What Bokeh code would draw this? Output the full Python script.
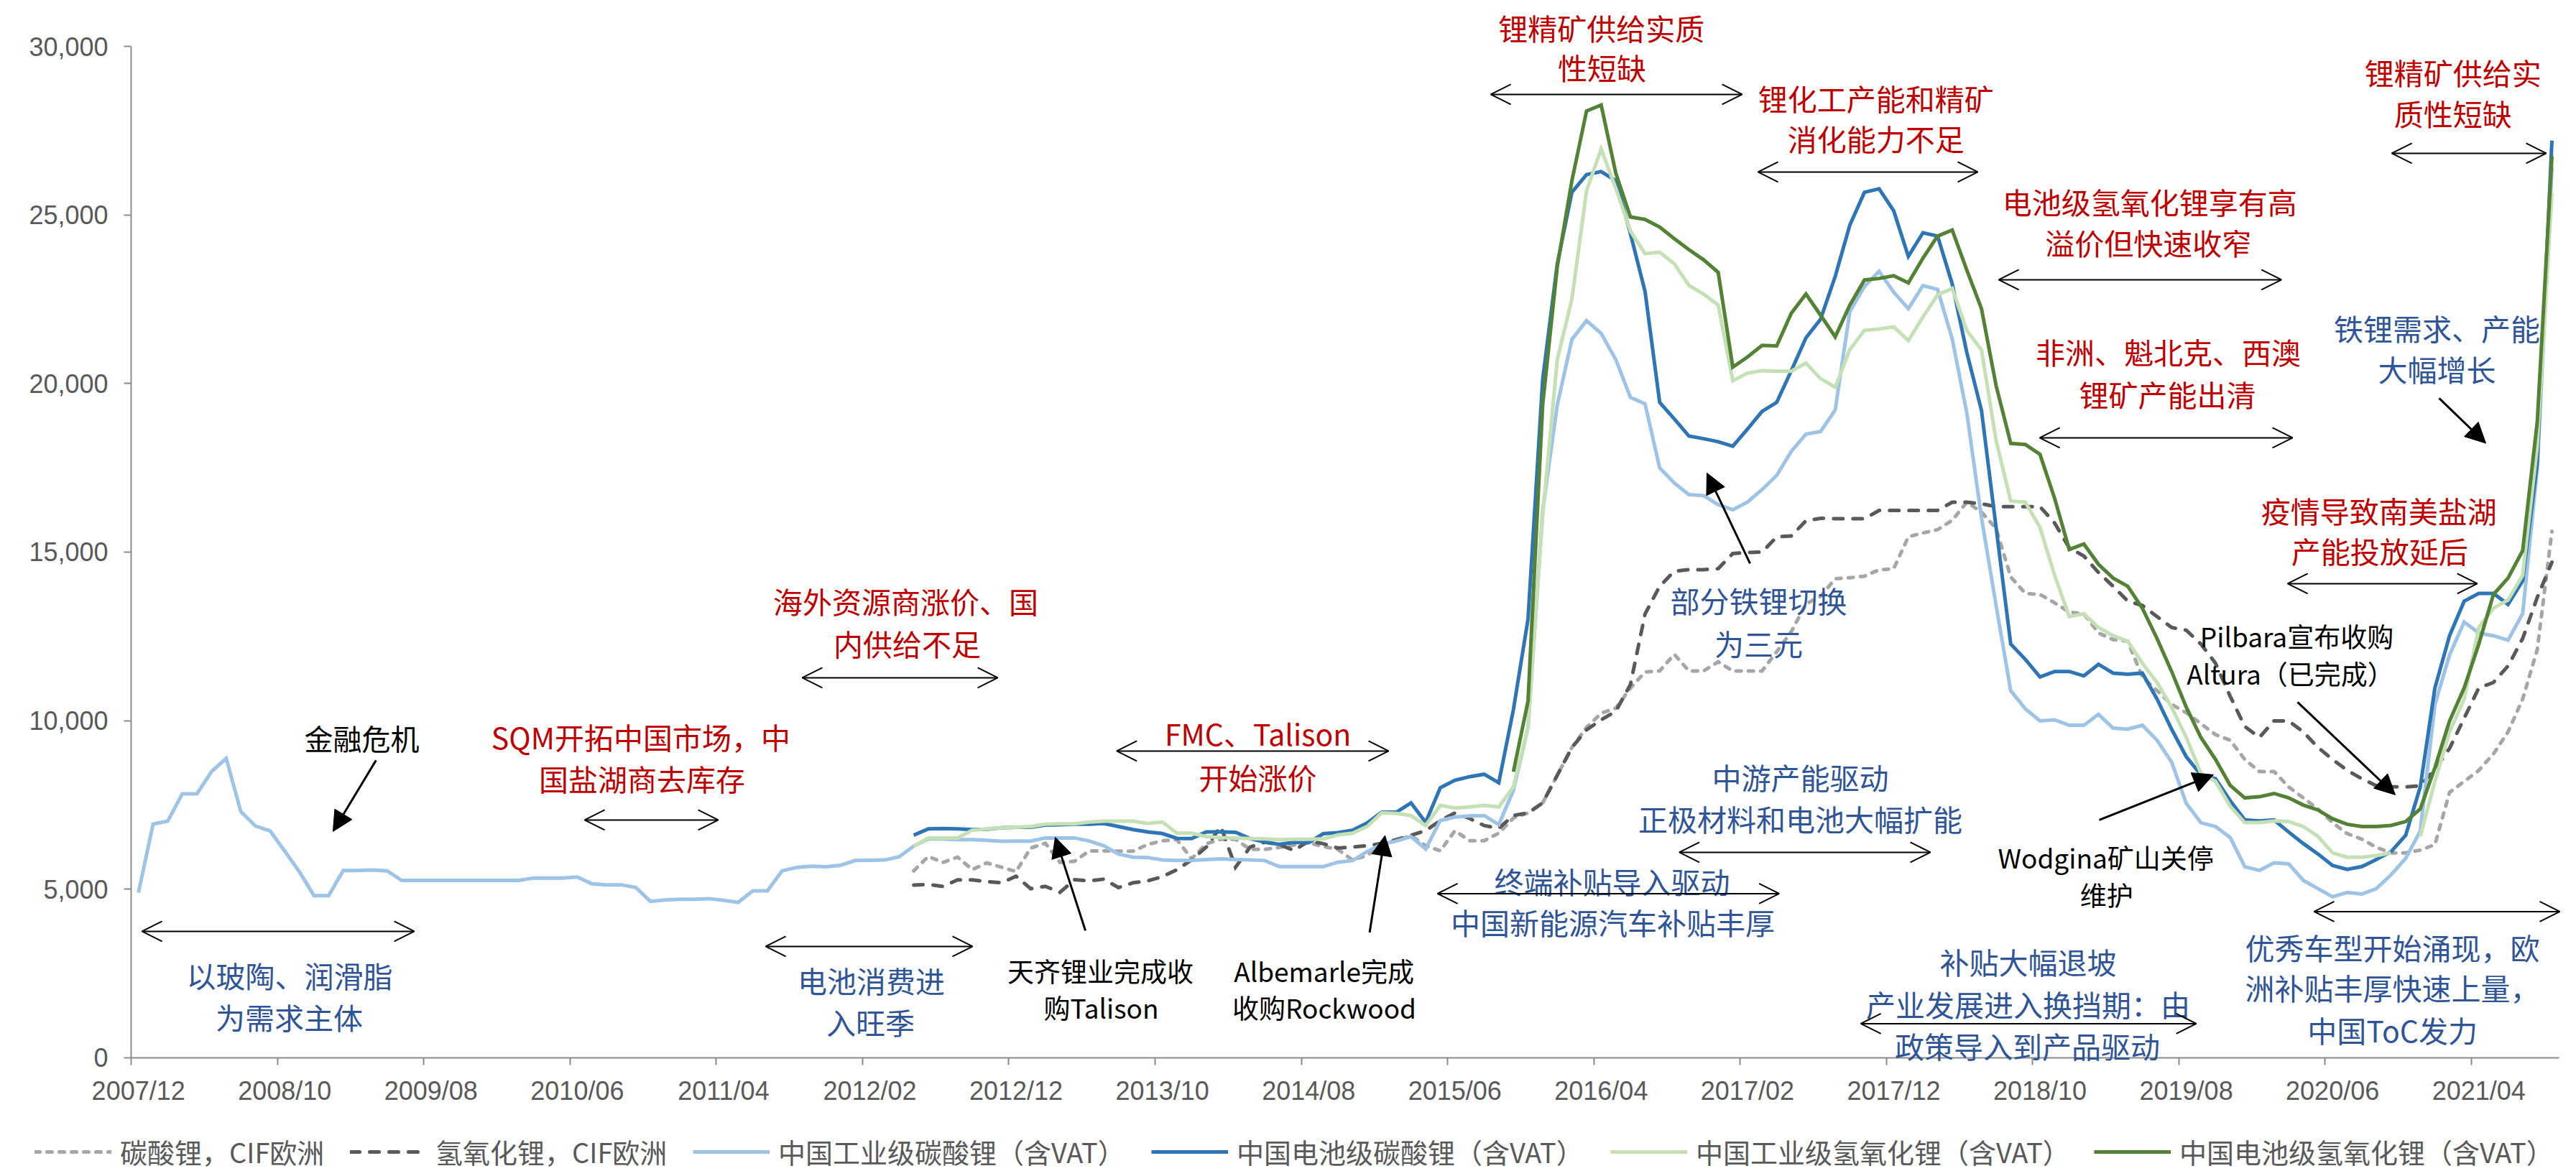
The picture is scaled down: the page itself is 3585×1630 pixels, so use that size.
from bokeh.plotting import figure
from bokeh.models import (Range1d, LinearAxis, FixedTicker, NumeralTickFormatter,
                          CustomJSTickFormatter, Legend, LegendItem, Label, Arrow,
                          OpenHead, NormalHead, ColumnDataSource)
from bokeh.embed import file_html
from bokeh.resources import INLINE

NA = float("nan")

# monthly categories 2007/12 .. 2021/09
months = []
_y, _m = 2007, 12
for _ in range(166):
    months.append(f"{_y}/{_m:02d}")
    _m += 1
    if _m > 12:
        _y, _m = _y + 1, 1

y_ticks = [0, 5000, 10000, 15000, 20000, 25000, 30000]
label_every = 10

# 中国工业级碳酸锂（含VAT）
ind_carbonate = [
    4900, 6930, 7020, 7830, 7830, 8490, 8880, 7300, 6875, 6730,
    6130, 5520, 4810, 4810, 5555, 5555, 5570, 5545, 5260, 5260,
    5260, 5260, 5260, 5260, 5260, 5260, 5260, 5330, 5330, 5330,
    5360, 5160, 5130, 5130, 5050, 4640, 4680, 4700, 4700, 4720,
    4670, 4610, 4950, 4950, 5545, 5645, 5680, 5667, 5710, 5852,
    5860, 5866, 5958, 6277, 6490, 6490, 6470, 6470, 6450, 6420,
    6430, 6430, 6520, 6520, 6520, 6430, 6290, 6040, 5950, 5940,
    5870, 5850, 5850, 5880, 5900, 5880, 5870, 5850, 5670, 5670,
    5670, 5670, 5800, 5850, 6115, 6330, 6430, 6560, 6190, 7036,
    7141, 7171, 7186, 6917, 7933, 9800, 16227, 19365, 21308, 21861,
    21487, 20710, 19589, 19395, 17497, 17048, 16705, 16675, 16406, 16256,
    16481, 16854, 17273, 17990, 18498, 18573, 19216, 22130, 22877, 23328,
    22708, 22218, 22904, 22790, 21322, 19121, 16023, 13415, 10888, 10350,
    9991, 10024, 9861, 9861, 10187, 9779, 9746, 9861, 9420, 8768,
    7545, 6975, 6860, 6535, 5670, 5556, 5784, 5752, 5263, 5019,
    4774, 4904, 4856, 5019, 5426, 5915, 6730, 10480, 11948, 12926,
    12600, 12518, 12387, 13170, 17491, 26400,
]

# 中国电池级碳酸锂（含VAT）
bat_carbonate = [NA] * 53 + [
    6600, 6790, 6800, 6790, 6770, 6780, 6820,
    6840, 6840, 6900, 6910, 6930, 6930, 6950, 6860, 6770, 6700,
    6650, 6510, 6500, 6700, 6700, 6690, 6500, 6400, 6330, 6390,
    6380, 6646, 6680, 6750, 6966, 7285, 7285, 7560, 6980, 8007,
    8231, 8336, 8411, 8157, 10324, 13014, 20113, 23550, 25672, 26195,
    26285, 26016, 24447, 22728, 19440, 18947, 18439, 18364, 18274, 18140,
    18648, 19171, 19440, 20381, 21353, 21906, 23176, 24700, 25672, 25774,
    25122, 23769, 24470, 24372, 22953, 20915, 19203, 15730, 12273, 11817,
    11295, 11458, 11458, 11328, 11670, 11409, 11376, 11409, 10643, 9746,
    8931, 8393, 8279, 7627, 7056, 7024, 7056, 6698, 6355, 6046,
    5703, 5589, 5670, 5882, 6111, 6600, 8035, 10970, 12518, 13545,
    13774, 13774, 13448, 14149, 17654, 27205,
]

# 中国工业级氢氧化锂（含VAT）
ind_hydroxide = [NA] * 53 + [
    6277, 6520, 6520, 6520, 6750, 6790, 6820,
    6840, 6860, 6930, 6940, 6940, 6990, 7020, 7020, 7020, 6950,
    6990, 6660, 6660, 6560, 6530, 6520, 6500, 6490, 6470, 6480,
    6480, 6490, 6610, 6660, 6860, 7270, 7250, 7186, 6887, 7485,
    7410, 7440, 7485, 7440, 8037, 9800, 16077, 20710, 22503, 25716,
    26957, 25791, 24521, 23848, 23893, 23550, 22907, 22653, 22324, 20083,
    20307, 20381, 20366, 20366, 20606, 20143, 19889, 21010, 21577, 21615,
    21680, 21273, 21974, 22626, 22822, 21566, 20995, 18305, 16512, 16480,
    15730, 14311, 13089, 13170, 12763, 12518, 12355, 11703, 11132, 10398,
    9502, 8442, 8197, 7464, 6975, 6975, 7024, 7007, 6860, 6567,
    6078, 5948, 5948, 5997, 6078, NA, 6567, 8197, 9665, 10643,
    12763, 13333, 13578, 14311, 18143, 25650,
]

# 中国电池级氢氧化锂（含VAT）
bat_hydroxide = [NA] * 94 + [
    8486, 10578, 19365, 23475, 26016, 28083,
    28261, 26240, 24940, 24865, 24641, 24297, 23969, 23670, 23296, 20486,
    20785, 21129, 21114, 22085, 22653, 22026, 21383, 22324, 23072, 23115,
    23196, 22984, 23718, 24372, 24551, 23359, 22218, 19936, 18224, 18191,
    17898, 16594, 15077, 15240, 14637, 14229, 13985, 13333, 12436, 11458,
    10398, 9502, 8850, 8084, 7709, 7742, 7840, 7709, 7497, 7350,
    7089, 6926, 6860, 6860, 6893, 7007, 7382, 8605, 9991, 10970,
    12273, 13741, 14229, 15044, 18876, 26743,
]

# 氢氧化锂，CIF欧洲
cif_hydroxide = [NA] * 53 + [
    5120, 5140, 5085, 5276, 5276, 5227, 5191,
    5383, 5014, 5085, 4907, 5284, 5248, 5298, 5049, 5191, 5248,
    5369, 5582, 5866, 6250, 6860, 5650, 6250, 6395, 6323, 6150,
    6430, 6350, 6220, 6250, 6290, 6360, 6470, 6600, 6736, 7036,
    7260, 7100, 6887, 6812, 7186, 7260, 7559, 8381, 9203, 9726,
    10025, 10279, 11071, 13163, 13985, 14433, 14478, 14478, 14508, 14956,
    14986, 15001, 15449, 15479, 15928, 16002, 15990, 15990, 15990, 16235,
    16235, 16235, 16235, 16235, 16480, 16480, 16431, 16349, 16349, 16349,
    16349, 15860, 15127, 14882, 14393, 13985, 13545, 13415, 13089, 12763,
    12681, 12273, 11703, 10725, 9828, 9502, 9991, 9991, 9665, 9209,
    8850, 8524, 8279, 8067, 8035, 8035, 8067, 8556, 9176, 10072,
    10970, 11132, 11621, 12436, 13659, 14700,
]

# 碳酸锂，CIF欧洲
cif_carbonate = [NA] * 53 + [
    5546, 5972, 5795, 5951, 5582, 5780, 5653,
    5525, 6221, 6363, 5795, 5830, 6136, 6136, 6129, 6129, 6328,
    6434, 6470, 5900, 6350, 6480, 6480, 6180, 6180, 6240, 6310,
    6380, 6270, 6180, 5870, 6000, 6330, 6440, 6587, 6288, 6138,
    6736, 6437, 6437, 6662, 7111, 7260, 7559, 8381, 9203, 9800,
    10219, 10368, 10966, 11444, 11474, 11967, 11474, 11474, 11743, 11474,
    11474, 11474, 12042, 12640, 13462, 13686, 14209, 14239, 14286, 14474,
    14507, 15452, 15567, 15665, 15942, 16480, 16186, 15697, 14262, 13773,
    13741, 13496, 13219, 13170, 12600, 12404, 12355, 11295, 10888, 10480,
    10236, 9910, 9584, 9420, 8850, 8491, 8491, 8035, 7709, 7382,
    6975, 6649, 6486, 6241, 6078, 6078, 6160, 6323, 7872, 8197,
    8524, 9013, 9665, 10643, 12110, 15616,
]

CJK = "Noto Sans CJK SC"
RED, BLUE, BLACK = "#C00000", "#2F5597", "#000000"
AXIS_GREY, TEXT_GREY = "#8C8C8C", "#595959"

# column, legend label, colour, dash, cap, legend-key left edge (px)
series = [
    ("cif_carb", "碳酸锂，CIF欧洲", "#A6A6A6", "7 10", "round", 48),
    ("cif_hyd", "氢氧化锂，CIF欧洲", "#595959", "13 14", "round", 487),
    ("ind_carb", "中国工业级碳酸锂（含VAT）", "#9DC3E6", "solid", "butt", 964),
    ("bat_carb", "中国电池级碳酸锂（含VAT）", "#2E75B6", "solid", "butt", 1602),
    ("ind_hyd", "中国工业级氢氧化锂（含VAT）", "#C5E0B4", "solid", "butt", 2241),
    ("bat_hyd", "中国电池级氢氧化锂（含VAT）", "#548235", "solid", "butt", 2914),
]

# The frame fills the whole canvas so that notes above the value axis and the legend
# strip below the month labels are not clipped; both axes are pinned at 0.
p = figure(width=3585, height=1630,
           x_range=Range1d(-8.941, 167.17), y_range=Range1d(-3369, 31364),
           output_backend="svg", toolbar_location=None,
           x_axis_location=None, y_axis_location=None,
           min_border_left=0, min_border_right=0, min_border_top=0, min_border_bottom=0)
p.outline_line_color = None
p.background_fill_color = "white"
p.border_fill_color = "white"
p.xgrid.visible = False
p.ygrid.visible = False

# category centres on a numeric axis
xs = [i + 0.5 for i in range(len(months))]
src = ColumnDataSource(dict(x=xs, cif_carb=cif_carbonate, cif_hyd=cif_hydroxide,
                            ind_carb=ind_carbonate, bat_carb=bat_carbonate,
                            ind_hyd=ind_hydroxide, bat_hyd=bat_hydroxide))

renderers = []
for col, name, color, dash, cap, _ in series:
    r = p.line("x", col, source=src, line_color=color, line_width=5,
               line_dash=dash, line_cap=cap, line_join="miter")
    renderers.append(r)

# y axis
yaxis = LinearAxis(ticker=FixedTicker(ticks=y_ticks), formatter=NumeralTickFormatter(format="0,0"),
                   bounds=(y_ticks[0], y_ticks[-1]), fixed_location=0)
yaxis.axis_line_color = AXIS_GREY
yaxis.axis_line_width = 2
yaxis.major_tick_line_color = AXIS_GREY
yaxis.major_tick_line_width = 2
yaxis.major_tick_out = 10
yaxis.major_tick_in = 0
yaxis.minor_tick_line_color = None
yaxis.major_label_text_font = "Liberation Sans"
yaxis.major_label_text_font_size = "36px"
yaxis.major_label_text_color = TEXT_GREY
yaxis.major_label_standoff = 22
p.add_layout(yaxis, "left")

# x axis: tick marks on category boundaries
boundaries = list(range(0, len(months), label_every))
xticks = LinearAxis(ticker=FixedTicker(ticks=boundaries),
                    formatter=CustomJSTickFormatter(code="return '';"),
                    bounds=(0, len(months)), fixed_location=0)
xticks.axis_line_color = AXIS_GREY
xticks.axis_line_width = 2
xticks.major_tick_line_color = AXIS_GREY
xticks.major_tick_line_width = 2
xticks.major_tick_out = 10
xticks.major_tick_in = 0
xticks.minor_tick_line_color = None
xticks.major_label_standoff = 0
p.add_layout(xticks, "below")

# x axis: month labels centred on their category
xlabels = LinearAxis(ticker=FixedTicker(ticks=[b + 0.5 for b in boundaries]),
                     formatter=CustomJSTickFormatter(args=dict(labels=months),
                                                     code="return labels[Math.floor(tick)] || '';"),
                     bounds=(0, len(months)), fixed_location=0)
xlabels.axis_line_color = None
xlabels.major_tick_line_color = None
xlabels.major_tick_out = 0
xlabels.major_tick_in = 0
xlabels.minor_tick_line_color = None
xlabels.major_label_text_font = "Liberation Sans"
xlabels.major_label_text_font_size = "36px"
xlabels.major_label_text_color = TEXT_GREY
xlabels.major_label_standoff = 26
p.add_layout(xlabels, "below")

# annotation texts: (lines with positions, colour, size)
notes = [
    ([("海外资源商涨价、国", 52.96, 13552), ("内供给不足", 53.06, 12295)], RED, 41),
    ([("SQM开拓中国市场，中", 34.85, 9525), ("国盐湖商去库存", 34.93, 8289)], RED, 41),
    ([("FMC、Talison", 77.03, 9631), ("开始涨价", 77.03, 8342)], RED, 41),
    ([("锂精矿供给实质", 100.52, 30560), ("性短缺", 100.56, 29384)], RED, 41),
    ([("锂化工产能和精矿", 119.28, 28468), ("消化能力不足", 119.28, 27275)], RED, 41),
    ([("电池级氢氧化锂享有高", 138.0, 25400), ("溢价但快速收窄", 137.9, 24185)], RED, 41),
    ([("非洲、魁北克、西澳", 139.27, 20946), ("锂矿产能出清", 139.22, 19689)], RED, 41),
    ([("疫情导致南美盐湖", 153.67, 16237), ("产能投放延后", 153.72, 15044)], RED, 41),
    ([("锂精矿供给实", 158.73, 29235), ("质性短缺", 158.73, 28020)], RED, 41),
    ([("以玻陶、润滑脂", 10.83, 2450), ("为需求主体", 10.81, 1215)], BLUE, 41),
    ([("电池消费进", 50.6, 2301), ("入旺季", 50.55, 1065)], BLUE, 41),
    ([("终端补贴导入驱动", 101.25, 5242), ("中国新能源汽车补贴丰厚", 101.3, 4027)], BLUE, 41),
    ([("中游产能驱动", 114.12, 8342), ("正极材料和电池大幅扩能", 114.12, 7096)], BLUE, 41),
    ([("部分铁锂切换", 111.27, 13573), ("为三元", 111.27, 12295)], BLUE, 41),
    ([("补贴大幅退坡", 129.69, 2855), ("产业发展进入换挡期：由", 129.69, 1598),
      ("政策导入到产品驱动", 129.64, 371)], BLUE, 41),
    ([("优秀车型开始涌现，欧", 154.6, 3288), ("洲补贴丰厚快速上量，", 154.6, 2088),
      ("中国ToC发力", 154.6, 842)], BLUE, 41),
    ([("铁锂需求、产能", 157.64, 21649), ("大幅增长", 157.64, 20435)], BLUE, 41),
    ([("金融危机", 15.77, 9493)], BLACK, 40),
    ([("天齐锂业完成收", 66.27, 2589), ("购Talison", 66.32, 1492)], BLACK, 37),
    ([("Albemarle完成", 81.55, 2589), ("收购Rockwood", 81.57, 1492)], BLACK, 37),
    ([("Wodgina矿山关停", 135.0, 5951), ("维护", 135.05, 4845)], BLACK, 37),
    ([("Pilbara宣布收购", 148.06, 12515), ("Altura（已完成）", 147.62, 11411)], BLACK, 37),
]
for lines, color, size in notes:
    for text, x, y in lines:
        p.add_layout(Label(x=x, y=y, text=text, text_align="center", text_baseline="middle",
                           text_font=CJK, text_font_size=f"{size}px", text_color=color))

# period spans (double-headed arrows): x_start, x_end, y
spans = [
    (0.74, 19.36, 3750), (31.0, 40.14, 7053), (43.38, 57.53, 3303), (45.88, 59.25, 11272),
    (67.38, 85.97, 9098), (89.31, 112.67, 4869), (92.95, 110.14, 28574), (105.84, 123.01, 6094),
    (111.22, 126.25, 26273), (118.25, 141.19, 1012), (127.68, 147.01, 23077),
    (130.48, 147.77, 18389), (147.43, 160.40, 14063), (149.24, 166.04, 4336),
    (154.55, 165.11, 26827),
]
for x0, x1, y in spans:
    p.add_layout(Arrow(start=OpenHead(size=28, line_width=2, line_color=BLACK),
                       end=OpenHead(size=28, line_width=2, line_color=BLACK),
                       x_start=x0, y_start=y, x_end=x1, y_end=y,
                       line_width=2, line_color=BLACK))

# event pointers
pointers = [
    (16.74, 8822, 13.80, 6712), (65.24, 3772, 63.18, 6542), (84.67, 3718, 85.72, 6593),
    (110.68, 14660, 107.73, 17345), (134.55, 7053, 142.36, 8396),
    (148.11, 10548, 154.79, 7799), (157.79, 19561, 160.98, 18227),
]
for x0, y0, x1, y1 in pointers:
    p.add_layout(Arrow(end=NormalHead(size=28, fill_color=BLACK, line_color=BLACK, line_width=1),
                       x_start=x0, y_start=y0, x_end=x1, y_end=y1,
                       line_width=3, line_color=BLACK))

# legend strip along the bottom edge, one entry per series
for (col, name, color, dash, cap, left), r in zip(series, renderers):
    lg = Legend(items=[LegendItem(label=name, renderers=[r])], location=(left, 0))
    lg.label_text_font = CJK
    lg.label_text_font_size = "38px"
    lg.label_text_color = TEXT_GREY
    lg.glyph_width = 107
    lg.glyph_height = 40
    lg.label_height = 40
    lg.label_standoff = 12
    lg.padding = 0
    lg.margin = 0
    lg.border_line_color = None
    lg.background_fill_alpha = 0
    p.add_layout(lg)

with open("out.html", "w") as f:
    f.write(file_html(p, INLINE))
